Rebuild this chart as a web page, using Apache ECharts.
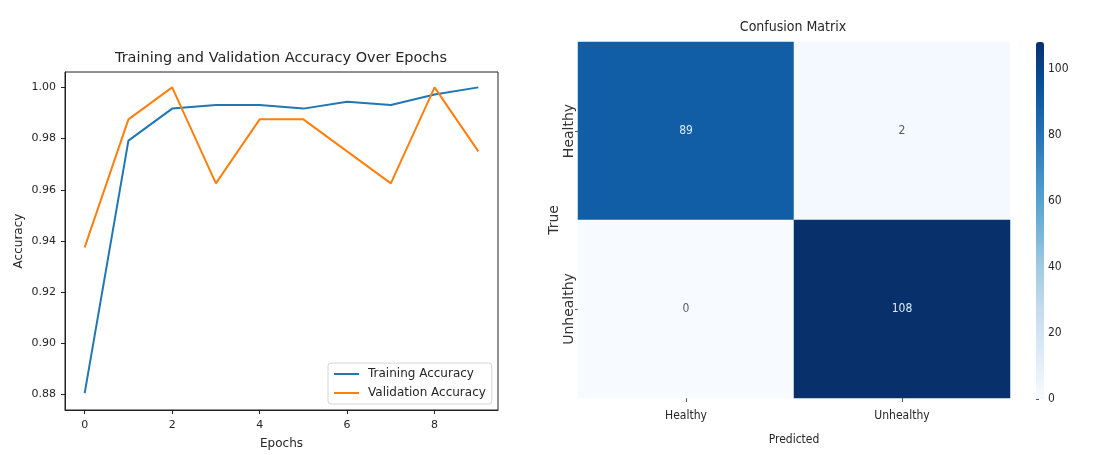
<!DOCTYPE html>
<html>
<head>
<meta charset="utf-8">
<script src="https://cdn.jsdelivr.net/npm/echarts@6/dist/echarts.min.js"></script>
<style>
  html, body { margin: 0; padding: 0; background: #ffffff; }
  #chart { width: 1104px; height: 455px; }
</style>
</head>
<body>
<div id="chart"></div>
<script>
// Accuracy per epoch
const epochs = [0, 1, 2, 3, 4, 5, 6, 7, 8, 9];
const trainingAccuracy = [0.8806, 0.9792, 0.9917, 0.9931, 0.9931, 0.9917, 0.9944, 0.9931, 0.9972, 1.0];
const validationAccuracy = [0.9375, 0.9875, 1.0, 0.9625, 0.9875, 0.9875, 0.975, 0.9625, 1.0, 0.975];
const epochTicks = [0, 2, 4, 6, 8];
const accuracyTicks = [0.88, 0.90, 0.92, 0.94, 0.96, 0.98, 1.00];

// Confusion matrix (rows = true class, columns = predicted class)
const classLabels = ['Healthy', 'Unhealthy'];
const confusion = [
  [89, 2],
  [0, 108]
];
const colorbarTicks = [0, 20, 40, 60, 80, 100];

// matplotlib "Blues" colour map stops
const blues = ['#f7fbff', '#deebf7', '#c6dbef', '#9ecae1', '#6baed6', '#4292c6', '#2171b5', '#08519c', '#08306b'];

const mainFont = "'DejaVu Sans', sans-serif";
const narrowFont = "'Liberation Sans Narrow', 'DejaVu Sans Condensed', 'Liberation Sans', sans-serif";
const textColor = '#262626';

const cmMax = Math.max(...confusion.flat());
const cmMin = Math.min(...confusion.flat());
const heatData = [];
confusion.forEach((row, r) => {
  row.forEach((v, c) => {
    heatData.push({
      value: [c, r, v],
      label: { color: v > (cmMax + cmMin) / 2 ? '#dce9fa' : '#5a5a5a' }
    });
  });
});

const chart = echarts.init(document.getElementById('chart'), null, { renderer: 'canvas' });

const option = {
  backgroundColor: '#ffffff',
  animation: false,
  title: [
    {
      text: 'Training and Validation Accuracy Over Epochs',
      left: 281, top: 51, padding: 0, textAlign: 'center',
      textStyle: { fontFamily: mainFont, fontSize: 14.5, fontWeight: 'normal', color: textColor }
    },
    {
      text: 'Confusion Matrix',
      left: 793, top: 20, padding: 0, textAlign: 'center',
      textStyle: { fontFamily: narrowFont, fontSize: 14, fontWeight: 'normal', color: textColor }
    }
  ],
  legend: {
    left: 328, top: 363,
    orient: 'vertical',
    padding: [5, 6, 5, 6],
    itemGap: 7,
    itemWidth: 25, itemHeight: 2,
    icon: 'rect',
    borderColor: '#d6d6d6', borderWidth: 1, borderRadius: 3,
    backgroundColor: 'rgba(255,255,255,0.8)',
    textStyle: { fontFamily: mainFont, fontSize: 12, color: textColor, padding: [0, 0, 0, 4] },
    data: ['Training Accuracy', 'Validation Accuracy']
  },
  grid: [
    { left: 65, top: 72, width: 433, height: 339, show: true, borderColor: '#222222', borderWidth: 1, backgroundColor: 'transparent' },
    { left: 578, top: 42, width: 432, height: 356 },
    { left: 1036, top: 42, width: 8, height: 357 }
  ],
  xAxis: [
    {
      gridIndex: 0, type: 'value', min: -0.45, max: 9.45,
      name: 'Epochs', nameLocation: 'middle', nameGap: 28,
      nameTextStyle: { fontFamily: mainFont, fontSize: 12, color: textColor },
      splitLine: { show: false },
      axisLine: { show: true, onZero: false, lineStyle: { color: '#222222' } },
      axisTick: { show: true, length: 4, customValues: epochTicks, lineStyle: { color: '#222222' } },
      axisLabel: { customValues: epochTicks, fontFamily: mainFont, fontSize: 11, color: textColor, margin: 10 }
    },
    {
      gridIndex: 1, type: 'category', data: classLabels,
      name: 'Predicted', nameLocation: 'middle', nameGap: 36,
      nameTextStyle: { fontFamily: narrowFont, fontSize: 12, color: textColor },
      axisLine: { show: false },
      axisTick: { show: true, alignWithLabel: true, length: 4, lineStyle: { color: '#555555' } },
      axisLabel: { fontFamily: narrowFont, fontSize: 12, color: textColor, margin: 12 },
      splitArea: { show: false }
    },
    { gridIndex: 2, type: 'value', min: 0, max: 1, show: false }
  ],
  yAxis: [
    {
      gridIndex: 0, type: 'value', min: 0.874, max: 1.006,
      name: 'Accuracy', nameLocation: 'middle', nameGap: 40, nameRotate: 90,
      nameTextStyle: { fontFamily: mainFont, fontSize: 12, color: textColor },
      splitLine: { show: false },
      axisLine: { show: true, onZero: false, lineStyle: { color: '#222222' } },
      axisTick: { show: true, length: 4, customValues: accuracyTicks, lineStyle: { color: '#222222' } },
      axisLabel: {
        customValues: accuracyTicks, fontFamily: mainFont, fontSize: 11, color: textColor, margin: 9,
        formatter: v => v.toFixed(2)
      }
    },
    {
      gridIndex: 1, type: 'category', data: classLabels, inverse: true,
      name: 'True', nameLocation: 'middle', nameGap: 15, nameRotate: 90,
      nameTextStyle: { fontFamily: mainFont, fontSize: 14, color: '#333333' },
      axisLine: { show: false },
      axisTick: { show: true, alignWithLabel: true, length: 3, lineStyle: { color: '#555555' } },
      axisLabel: { rotate: 90, fontFamily: mainFont, fontSize: 14, color: '#333333', margin: 2 },
      splitArea: { show: false }
    },
    {
      gridIndex: 2, type: 'value', min: 0, max: cmMax, position: 'right',
      splitLine: { show: false },
      axisLine: { show: false },
      axisTick: { show: true, length: 3, customValues: colorbarTicks, lineStyle: { color: '#555555' } },
      axisLabel: { customValues: colorbarTicks, fontFamily: narrowFont, fontSize: 12, color: textColor, margin: 4 }
    }
  ],
  visualMap: {
    type: 'continuous',
    seriesIndex: 2,
    min: cmMin, max: cmMax,
    left: 1036, top: 42,
    padding: 0,
    itemWidth: 8, itemHeight: 357,
    text: null,
    showLabel: false,
    calculable: false,
    hoverLink: false,
    inRange: { color: blues }
  },
  series: [
    {
      name: 'Training Accuracy', type: 'line', xAxisIndex: 0, yAxisIndex: 0,
      data: epochs.map((e, i) => [e, trainingAccuracy[i]]),
      showSymbol: false, symbol: 'none',
      lineStyle: { color: '#1f77b4', width: 2 },
      itemStyle: { color: '#1f77b4' }
    },
    {
      name: 'Validation Accuracy', type: 'line', xAxisIndex: 0, yAxisIndex: 0,
      data: epochs.map((e, i) => [e, validationAccuracy[i]]),
      showSymbol: false, symbol: 'none',
      lineStyle: { color: '#ff7f0e', width: 2 },
      itemStyle: { color: '#ff7f0e' }
    },
    {
      name: 'Confusion Matrix', type: 'heatmap', xAxisIndex: 1, yAxisIndex: 1,
      data: heatData,
      label: {
        show: true,
        fontFamily: narrowFont, fontSize: 12,
        formatter: p => String(p.value[2])
      },
      emphasis: { disabled: true }
    }
  ]
};

chart.setOption(option);
</script>
</body>
</html>
